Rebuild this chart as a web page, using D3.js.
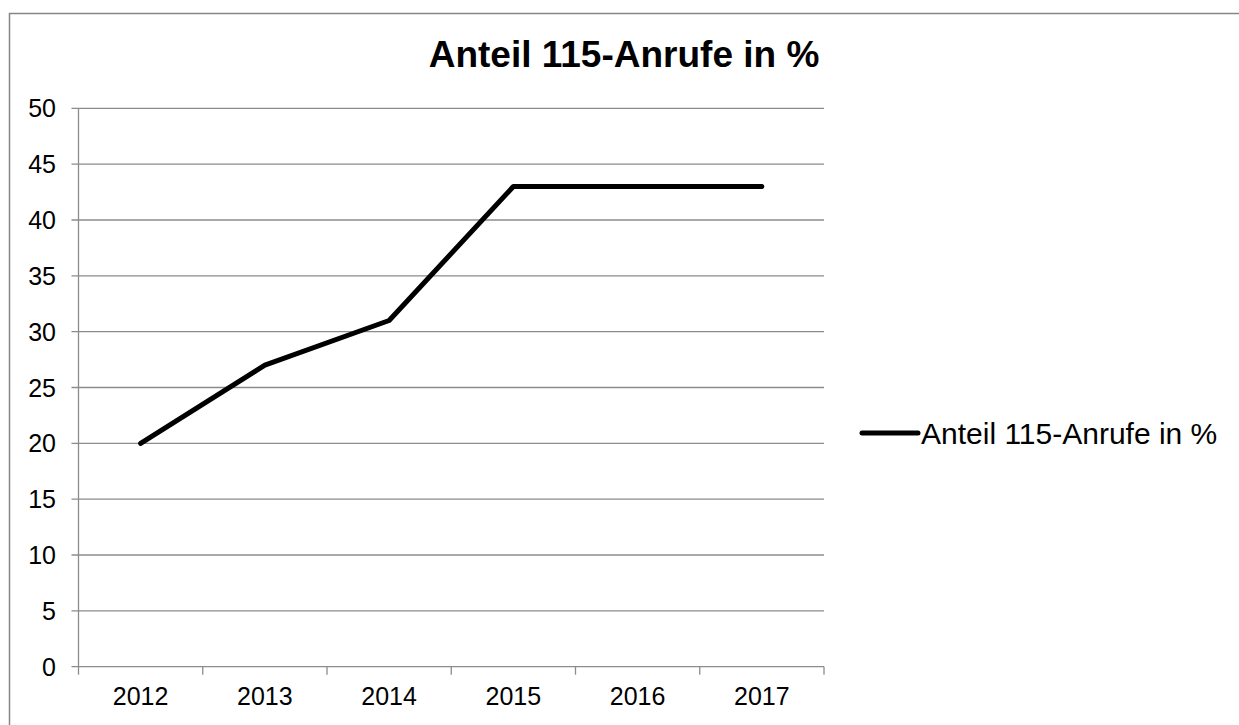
<!DOCTYPE html>
<html><head><meta charset="utf-8">
<script src="https://cdn.jsdelivr.net/npm/d3@7"></script>
<style>body{margin:0;background:#fff}svg{display:block}text{font-family:"Liberation Sans",Arial,sans-serif}</style>
</head><body>
<svg id="c" width="1239" height="725"></svg>
<script>
const categories = ["2012","2013","2014","2015","2016","2017"];
const values = [20, 27, 31, 43, 43, 43];
const yTicks = [0,5,10,15,20,25,30,35,40,45,50];
const seriesName = "Anteil 115-Anrufe in %";
const title = "Anteil 115-Anrufe in %";

const svg = d3.select("#c");
const L = 78.5, R = 824, T = 108.3, B = 666.7;

// outer chart border
svg.append("rect").attr("x",9.5).attr("y",13.5).attr("width",1260).attr("height",740)
  .attr("fill","none").attr("stroke","#868686").attr("stroke-width",1.5);

const x = d3.scaleBand().domain(categories).range([L,R]).padding(0);
const y = d3.scaleLinear().domain([0,50]).range([B,T]);

// gridlines
svg.append("g").selectAll("line").data(yTicks).join("line")
  .attr("x1",L-7).attr("x2",R).attr("y1",d=>y(d)).attr("y2",d=>y(d))
  .attr("stroke","#8c8c8c").attr("stroke-width",1.3);

// y axis line
svg.append("line").attr("x1",L).attr("x2",L).attr("y1",T).attr("y2",B)
  .attr("stroke","#8c8c8c").attr("stroke-width",1.3);

// y labels
svg.append("g").selectAll("text").data(yTicks).join("text")
  .attr("x",56).attr("y",d=>y(d)).attr("dy","0.36em").attr("text-anchor","end")
  .attr("font-size",25).attr("fill","#000").text(d=>d);

// x ticks at band boundaries
const bounds = categories.map(c=>x(c)).concat([x(categories[categories.length-1])+x.bandwidth()]);
svg.append("g").selectAll("line").data(bounds).join("line")
  .attr("x1",d=>d).attr("x2",d=>d).attr("y1",B).attr("y2",B+8)
  .attr("stroke","#8c8c8c").attr("stroke-width",1.3);

// x labels
svg.append("g").selectAll("text").data(categories).join("text")
  .attr("x",d=>x(d)+x.bandwidth()/2).attr("y",705).attr("text-anchor","middle")
  .attr("font-size",25).attr("fill","#000").text(d=>d);

// line
const line = d3.line().x((d,i)=>x(categories[i])+x.bandwidth()/2).y(d=>y(d));
svg.append("path").datum(values).attr("d",line).attr("fill","none")
  .attr("stroke","#000").attr("stroke-width",5).attr("stroke-linejoin","round").attr("stroke-linecap","round");

// title
svg.append("text").attr("x",624).attr("y",66.7).attr("text-anchor","middle")
  .attr("font-size",37).attr("font-weight","bold").attr("fill","#000").text(title);

// legend
svg.append("line").attr("x1",862).attr("x2",918).attr("y1",433).attr("y2",433)
  .attr("stroke","#000").attr("stroke-width",5).attr("stroke-linecap","round");
svg.append("text").attr("x",921).attr("y",433).attr("dy","0.36em")
  .attr("font-size",30).attr("fill","#000").text(seriesName);
</script>
</body></html>
